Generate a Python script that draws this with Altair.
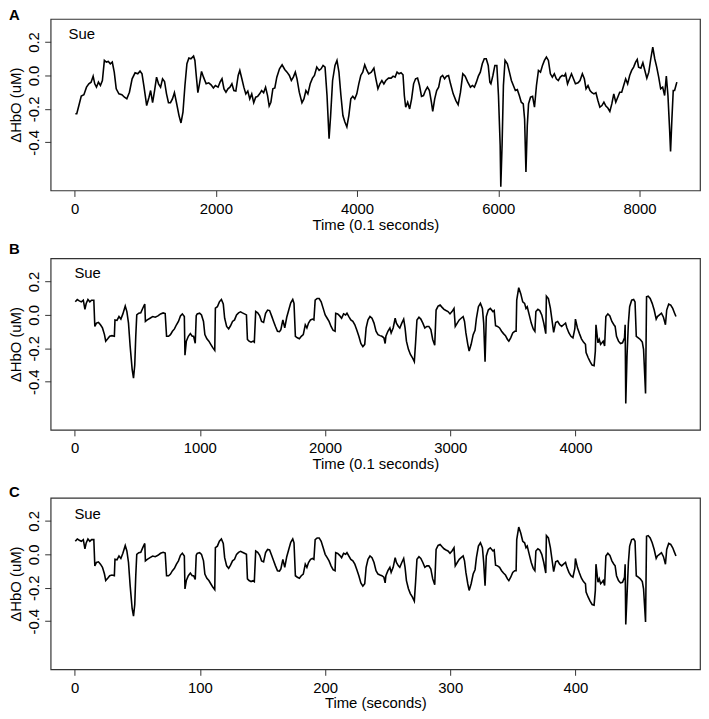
import altair as alt
import pandas as pd

FONT = "Liberation Sans"

# ---------------- Panel A (0.1 s samples) ----------------
a_time = [10, 30, 60, 94, 131, 168, 201, 233, 262, 285, 309, 337, 365, 393, 421, 449, 477, 505, 533, 561,
          589, 627, 669, 706, 739, 776, 814, 856, 894, 926, 954, 983, 1020, 1053, 1076, 1104, 1132, 1160, 1188,
          1217, 1245, 1273, 1301, 1329, 1357, 1385, 1413, 1441, 1478, 1506, 1534, 1562, 1590, 1618, 1646, 1684,
          1703, 1722, 1745, 1768, 1797, 1825, 1862, 1899, 1932, 1965, 1993, 2031, 2059, 2087, 2115, 2143, 2171,
          2199, 2227, 2255, 2283, 2316, 2339, 2368, 2396, 2424, 2452, 2480, 2508, 2536, 2564, 2592, 2620, 2648,
          2676, 2704, 2732, 2755, 2779, 2807, 2835, 2863, 2901, 2938, 2975, 3008, 3041, 3069, 3097, 3125, 3149,
          3181, 3219, 3247, 3275, 3303, 3336, 3368, 3396, 3429, 3462, 3490, 3518, 3546, 3574, 3603, 3625, 3653,
          3687, 3715, 3743, 3771, 3799, 3827, 3855, 3883, 3911, 3939, 3967, 3996, 4024, 4052, 4080, 4108, 4136,
          4164, 4201, 4238, 4266, 4295, 4323, 4351, 4379, 4407, 4445, 4482, 4510, 4538, 4566, 4594, 4622, 4650,
          4669, 4688, 4716, 4744, 4772, 4800, 4828, 4856, 4884, 4912, 4940, 4968, 4996, 5024, 5052, 5071, 5099,
          5127, 5155, 5183, 5211, 5239, 5267, 5295, 5323, 5361, 5399, 5431, 5464, 5497, 5530, 5567, 5605, 5633,
          5661, 5689, 5717, 5745, 5773, 5801, 5829, 5857, 5880, 5895, 5923, 5951, 5979, 6002, 6026, 6035, 6053,
          6072, 6095, 6128, 6157, 6185, 6213, 6241, 6269, 6297, 6325, 6353, 6372, 6391, 6410, 6428, 6456, 6485,
          6512, 6540, 6568, 6597, 6625, 6653, 6681, 6709, 6737, 6765, 6793, 6821, 6849, 6877, 6905, 6933, 6952,
          6980, 7008, 7036, 7064, 7092, 7129, 7157, 7190, 7218, 7242, 7270, 7298, 7326, 7354, 7382, 7410, 7438,
          7467, 7495, 7523, 7551, 7579, 7607, 7635, 7663, 7691, 7719, 7747, 7775, 7803, 7831, 7860, 7888, 7916,
          7944, 7967, 7986, 8019, 8047, 8075, 8103, 8131, 8159, 8187, 8215, 8243, 8271, 8299, 8327, 8355, 8379,
          8402, 8425, 8439, 8458, 8477, 8496, 8515, 8528]
a_hbo = [-0.229, -0.229, -0.18, -0.123, -0.115, -0.07, -0.05, -0.04, -0.004, -0.05, -0.07, -0.04, -0.06, -0.03,
         0.09, 0.08, 0.084, 0.07, 0.08, 0.02, -0.08, -0.11, -0.115, -0.13, -0.14, -0.10, -0.02, 0.016, 0.01, 0.026,
         0.01, -0.07, -0.18, -0.13, -0.09, -0.163, -0.09, -0.01, -0.05, -0.07, -0.02, -0.036, -0.11, -0.163,
         -0.163, -0.14, -0.103, -0.16, -0.24, -0.284, -0.22, -0.06, 0.07, 0.104, 0.10, 0.116, 0.09, 0.0, -0.103,
         -0.05, 0.024, -0.01, -0.05, -0.044, -0.056, -0.075, -0.06, -0.07, -0.04, -0.02, -0.08, -0.10, -0.08,
         -0.07, -0.05, -0.09, -0.093, 0.0, 0.03, -0.02, -0.07, -0.11, -0.093, -0.14, -0.11, -0.163, -0.13, -0.125,
         -0.11, -0.09, -0.103, -0.07, -0.12, -0.183, -0.16, -0.08, -0.075, -0.01, 0.04, 0.064, 0.036, 0.02, 0.0,
         -0.03, -0.01, 0.02, -0.02, -0.10, -0.163, -0.14, -0.09, -0.11, -0.05, -0.016, 0.0, 0.05, 0.03, 0.04,
         0.06, 0.05, -0.12, -0.378, -0.24, -0.03, 0.06, 0.09, 0.02, -0.12, -0.24, -0.278, -0.308, -0.24, -0.14,
         -0.125, -0.14, -0.11, -0.05, 0.0, 0.02, 0.064, 0.033, 0.01, 0.02, 0.044, -0.02, -0.08, -0.05, -0.03,
         -0.05, -0.03, -0.016, -0.016, -0.004, -0.01, 0.02, 0.01, 0.016, 0.004, -0.12, -0.19, -0.16, -0.20, -0.14,
         -0.05, -0.02, -0.016, -0.06, -0.125, -0.12, -0.09, -0.07, -0.09, -0.16, -0.215, -0.14, -0.09, -0.07,
         -0.01, 0.0, -0.02, -0.004, 0.0, -0.05, -0.11, -0.15, -0.175, -0.10, 0.01, -0.004, -0.04, -0.07, -0.06,
         -0.07, -0.04, -0.004, 0.02, 0.07, 0.10, 0.10, 0.06, -0.04, -0.05, 0.0, 0.06, 0.06, -0.12, -0.418, -0.666,
         -0.418, -0.06, 0.09, 0.07, 0.02, -0.03, -0.06, -0.09, -0.085, -0.12, -0.16, -0.17, -0.26, -0.577, -0.30,
         -0.17, -0.13, -0.125, -0.19, -0.06, 0.03, 0.02, 0.06, 0.09, 0.11, 0.09, 0.01, -0.01, 0.01, -0.02, -0.03,
         -0.01, 0.0, -0.004, 0.01, -0.05, -0.02, 0.01, -0.02, -0.05, -0.044, -0.03, 0.01, -0.02, -0.08, -0.06,
         -0.09, -0.103, -0.11, -0.103, -0.15, -0.19, -0.18, -0.16, -0.183, -0.195, -0.215, -0.17, -0.11, -0.16,
         -0.13, -0.10, -0.10, -0.06, -0.02, -0.05, 0.0, 0.03, 0.05, 0.08, 0.096, 0.05, 0.044, 0.076, 0.03, -0.016,
         0.02, 0.10, 0.17, 0.10, 0.05, -0.01, -0.08, -0.07, -0.12, -0.004, -0.12, -0.318, -0.454, -0.26, -0.09,
         -0.09, -0.06, -0.04]

# ---------------- Panel B (0.1 s samples) ----------------
b_time = [5, 21, 37, 53, 69, 82, 92, 106, 121, 135, 153, 161, 174, 190, 206, 222, 238, 248, 264, 280, 298, 317,
          322, 338, 354, 369, 385, 404, 417, 430, 443, 459, 470, 480, 488, 496, 512, 528, 544, 560, 565, 580, 602,
          623, 644, 665, 686, 707, 723, 734, 750, 765, 781, 797, 813, 829, 845, 860, 876, 881, 892, 908, 924, 939,
          950, 963, 971, 979, 998, 1013, 1029, 1040, 1056, 1072, 1087, 1103, 1119, 1124, 1140, 1156, 1172, 1187,
          1198, 1214, 1230, 1245, 1261, 1277, 1293, 1309, 1325, 1340, 1356, 1372, 1380, 1393, 1409, 1425, 1435,
          1446, 1462, 1478, 1493, 1509, 1525, 1541, 1557, 1573, 1589, 1604, 1620, 1636, 1647, 1663, 1678, 1694,
          1710, 1726, 1742, 1752, 1763, 1779, 1795, 1810, 1826, 1842, 1855, 1868, 1884, 1900, 1911, 1921, 1937,
          1953, 1969, 1985, 2001, 2017, 2032, 2048, 2064, 2080, 2085, 2101, 2117, 2132, 2148, 2164, 2175, 2190,
          2206, 2222, 2238, 2254, 2270, 2286, 2302, 2317, 2328, 2343, 2359, 2375, 2391, 2407, 2423, 2439, 2454,
          2470, 2480, 2486, 2502, 2518, 2528, 2544, 2560, 2570, 2586, 2597, 2613, 2628, 2639, 2650, 2666, 2681,
          2697, 2713, 2723, 2734, 2750, 2765, 2781, 2797, 2813, 2829, 2845, 2860, 2876, 2887, 2903, 2919, 2935,
          2950, 2966, 2982, 2998, 3014, 3030, 3040, 3056, 3072, 3087, 3103, 3114, 3125, 3140, 3151, 3167, 3183,
          3198, 3209, 3225, 3241, 3257, 3267, 3278, 3288, 3304, 3320, 3341, 3351, 3362, 3378, 3394, 3410, 3425,
          3441, 3457, 3468, 3483, 3499, 3515, 3526, 3531, 3547, 3563, 3579, 3594, 3605, 3615, 3631, 3647, 3663,
          3676, 3684, 3700, 3715, 3731, 3747, 3763, 3768, 3784, 3800, 3816, 3826, 3842, 3858, 3874, 3890, 3905,
          3921, 3932, 3948, 3964, 3980, 3995, 4000, 4016, 4032, 4048, 4064, 4080, 4085, 4101, 4117, 4133, 4149,
          4159, 4164, 4180, 4190, 4201, 4212, 4222, 4233, 4243, 4259, 4275, 4291, 4307, 4317, 4328, 4344, 4360,
          4376, 4392, 4397, 4402, 4412, 4423, 4433, 4449, 4465, 4476, 4486, 4502, 4518, 4534, 4544, 4560, 4568,
          4581, 4597, 4613, 4629, 4645, 4655, 4671, 4687, 4703, 4719, 4729, 4745, 4761, 4777, 4792, 4803]
b_hbo = [0.078, 0.092, 0.084, 0.078, 0.088, 0.033, 0.068, 0.092, 0.078, 0.088, 0.088, -0.069, -0.049, -0.045,
         -0.059, -0.078, -0.118, -0.157, -0.143, -0.128, -0.124, -0.128, -0.03, -0.033, -0.01, -0.025, 0.006,
         0.053, 0.02, -0.049, -0.186, -0.324, -0.378, -0.30, -0.128, 0.0, 0.01, 0.012, 0.04, 0.065, -0.039,
         -0.03, -0.02, -0.01, -0.014, -0.006, 0.006, 0.012, 0.008, -0.128, -0.128, -0.118, -0.098, -0.084, -0.059,
         -0.039, -0.006, 0.006, -0.01, -0.241, -0.157, -0.128, -0.112, -0.128, -0.128, -0.17, -0.005, 0.006, 0.01,
         0.0, -0.039, -0.118, -0.143, -0.157, -0.176, -0.196, -0.212, 0.04, 0.049, 0.078, 0.092, 0.065, -0.02,
         -0.069, -0.084, -0.065, -0.039, -0.03, 0.0, 0.012, 0.018, 0.012, 0.006, 0.0, -0.147, -0.157, -0.163,
         -0.157, -0.163, 0.02, 0.012, -0.006, -0.039, -0.045, 0.01, 0.029, 0.026, -0.006, -0.039, -0.069, -0.098,
         -0.10, -0.088, -0.03, -0.078, -0.014, 0.029, 0.072, 0.092, 0.069, -0.128, -0.137, -0.143, -0.128, -0.118,
         -0.059, -0.078, -0.049, -0.03, -0.025, -0.03, 0.088, 0.098, 0.098, 0.078, 0.039, 0.0, -0.02, -0.039,
         -0.069, -0.092, -0.098, 0.01, 0.006, -0.006, -0.02, 0.006, 0.0, 0.01, -0.01, -0.03, -0.039, -0.059,
         -0.092, -0.128, -0.171, -0.19, -0.176, -0.078, -0.03, -0.01, -0.02, -0.049, -0.098, -0.118, -0.124,
         -0.128, -0.137, -0.171, -0.128, -0.098, -0.078, -0.108, -0.078, -0.02, -0.049, -0.069, -0.078, -0.049,
         -0.025, -0.078, -0.157, -0.206, -0.235, -0.255, -0.28, -0.167, -0.03, -0.014, -0.025, -0.049, -0.078,
         -0.069, -0.069, -0.088, -0.147, -0.182, 0.029, 0.053, 0.059, 0.045, 0.033, 0.026, 0.02, 0.006, 0.02,
         0.039, -0.069, -0.049, -0.03, -0.02, -0.01, -0.039, -0.108, -0.176, -0.216, -0.176, -0.118, -0.092,
         -0.02, 0.049, 0.069, 0.039, -0.049, -0.28, -0.01, 0.029, 0.039, 0.02, 0.026, -0.065, -0.069, -0.078,
         -0.098, -0.112, -0.124, -0.147, -0.157, -0.137, -0.108, -0.098, -0.098, 0.088, 0.163, 0.127, 0.078,
         0.069, 0.039, 0.049, 0.0, -0.049, -0.084, -0.098, 0.02, 0.033, 0.026, 0.0, -0.049, -0.112, 0.112, 0.098,
         0.039, -0.049, -0.104, -0.045, -0.039, -0.059, -0.069, -0.059, -0.049, -0.078, -0.108, -0.128, -0.137,
         -0.084, -0.025, -0.078, -0.112, -0.143, -0.163, -0.176, -0.226, -0.255, -0.28, -0.30, -0.304, -0.216,
         -0.059, -0.167, -0.147, -0.176, -0.167, -0.157, -0.186, -0.01, 0.006, -0.006, -0.039, -0.059, -0.069,
         -0.128, -0.157, -0.171, -0.167, -0.137, -0.059, -0.53, -0.245, -0.049, 0.049, 0.088, 0.092, 0.078,
         -0.128, -0.137, -0.147, -0.163, -0.206, -0.47, 0.108, 0.112, 0.098, 0.069, 0.029, -0.025, -0.01, 0.0,
         0.01, -0.014, -0.059, 0.029, 0.065, 0.059, 0.039, 0.01, -0.01]

# ---------------- Panel C (same recording, in seconds) ----------------
c_time = [t / 10 for t in b_time]
c_spikes = {881: -0.207, 963: -0.15, 3278: -0.188, 4402: -0.42, 4560: -0.405, 470: -0.37}
c_hbo = [c_spikes.get(t, v) for t, v in zip(b_time, b_hbo)]

y_ticks = [-0.4, -0.2, 0.0, 0.2]
y_domain = [-0.688, 0.338]

PW = 655
PH = 173
FS = 15


def panel(time, vals, xdom, xticks, xtitle, letter, letter_y, sue_x, sue_y):
    df = pd.DataFrame({"t": time, "v": vals})
    line = alt.Chart(df).mark_line(color="black", strokeWidth=1.6).encode(
        x=alt.X("t:Q",
                scale=alt.Scale(domain=xdom, nice=False, zero=False),
                axis=alt.Axis(values=xticks, title=xtitle, format="d", grid=False,
                              domain=False, tickSize=6, tickColor="#333", tickWidth=1,
                              labelFont=FONT, labelFontSize=FS, labelColor="black",
                              labelPadding=5, titleFont=FONT, titleFontSize=FS,
                              titleFontWeight="normal", titleColor="black", titlePadding=1)),
        y=alt.Y("v:Q",
                scale=alt.Scale(domain=y_domain, nice=False, zero=False),
                axis=alt.Axis(values=y_ticks, title="ΔHbO (uM)", grid=False, domain=False,
                              labelExpr="replace(format(datum.value, '.1f'), '\u2212', '-')",
                              labelAngle=270, labelAlign="center", labelBaseline="bottom",
                              tickSize=6, tickColor="#333", tickWidth=1,
                              labelFont=FONT, labelFontSize=FS, labelColor="black",
                              labelPadding=3, titleFont=FONT, titleFontSize=FS,
                              titleFontWeight="normal", titleColor="black", titlePadding=3)),
    )
    lab = alt.Chart(pd.DataFrame({"s": [letter]})).mark_text(
        font=FONT, fontSize=15, fontWeight="bold", align="left", baseline="top", color="black"
    ).encode(x=alt.value(-42), y=alt.value(letter_y), text="s:N")
    sue = alt.Chart(pd.DataFrame({"s": ["Sue"]})).mark_text(
        font=FONT, fontSize=FS, align="left", baseline="alphabetic", color="black"
    ).encode(x=alt.value(sue_x), y=alt.value(sue_y), text="s:N")
    return alt.layer(line, lab, sue).properties(width=PW, height=PH)


pa = panel(a_time, a_hbo, [-340, 8856], [0, 2000, 4000, 6000, 8000], "Time (0.1 seconds)", "A", -11, 18, 20)
pb = panel(b_time, b_hbo, [-192, 4995], [0, 1000, 2000, 3000, 4000], "Time (0.1 seconds)", "B", -16.5, 24, 20)
pc = panel(c_time, c_hbo, [-19.2, 499.5], [0, 100, 200, 300, 400], "Time (seconds)", "C", -13, 24, 21)

chart = alt.vconcat(pa, pb, pc, spacing=68.5, bounds="flush").properties(
    padding={"left": 0, "top": -4, "right": 0, "bottom": 0}
).configure_view(stroke="#333", strokeWidth=1.2)

chart.save("out.html", embed_options={"renderer": "svg", "actions": False})
